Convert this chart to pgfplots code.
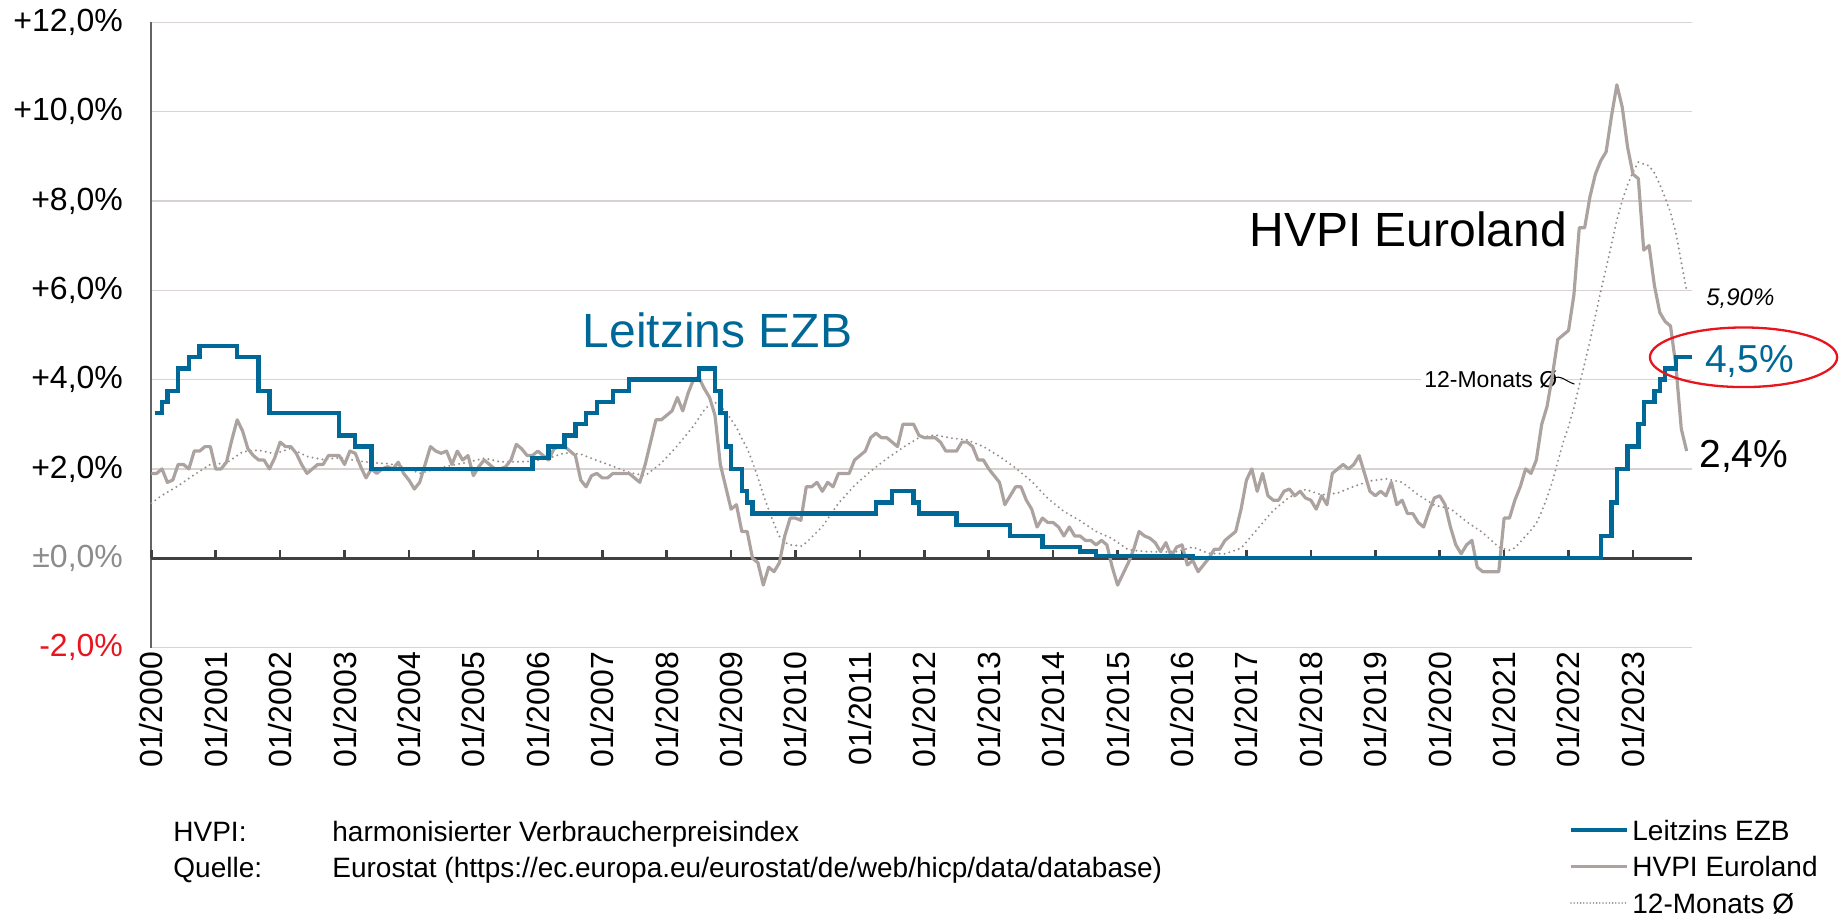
\documentclass[border=0pt]{standalone}
\usepackage{fontspec}
\setmainfont{Liberation Sans}
\usepackage{pgfplots}
\pgfplotsset{compat=1.18}
\definecolor{ezb}{RGB}{0,104,150}
\definecolor{hvpi}{RGB}{172,163,160}
\definecolor{avgc}{RGB}{150,140,137}
\definecolor{gridc}{RGB}{216,211,208}
\definecolor{zeroc}{RGB}{64,64,64}
\definecolor{axisc}{RGB}{100,100,100}
\definecolor{redc}{RGB}{232,20,30}
\definecolor{labgrey}{RGB}{140,140,140}
\begin{document}
\begin{tikzpicture}
\useasboundingbox (0,0) rectangle (919.5pt,460pt);
\begin{axis}[
  at={(75.65pt,136.2pt)}, anchor=south west,
  scale only axis, width=770.35pt, height=312.65pt,
  xmin=0, xmax=287, ymin=-2, ymax=12,
  axis x line*=bottom, axis y line*=left,
  x axis line style={draw=none},
  y axis line style={draw=axisc, line width=0.9pt},
  xtick={0,12,...,276},
  xticklabels={01/2000,01/2001,01/2002,01/2003,01/2004,01/2005,01/2006,01/2007,01/2008,01/2009,01/2010,01/2011,01/2012,01/2013,01/2014,01/2015,01/2016,01/2017,01/2018,01/2019,01/2020,01/2021,01/2022,01/2023},
  ytick={-2,0,2,4,6,8,10,12},
  yticklabels={{\textcolor{redc}{-2,0\%}},{\textcolor{labgrey}{±0,0\%}},{+2,0\%},{+4,0\%},{+6,0\%},{+8,0\%},{+10,0\%},{+12,0\%}},
  major tick length=0pt,
  tick style={draw=none},
  ymajorgrids, grid style={draw=gridc, line width=0.75pt},
  extra y ticks={0}, extra y tick labels={},
  extra y tick style={grid style={draw=zeroc, line width=1.4pt}},
  tick label style={font=\fontsize{16}{19}\selectfont},
  xticklabel style={rotate=90, anchor=east, inner sep=0pt},
  yticklabel style={anchor=east, inner sep=0pt},
  xticklabel shift=2pt, yticklabel shift=14pt,
  clip=false,
]
% year tick marks on the zero line
\pgfplotsinvokeforeach{0,12,24,36,48,60,72,84,96,108,120,132,144,156,168,180,192,204,216,228,240,252,264,276}{
  \draw[zeroc, line width=1.3pt] (axis cs:#1,0) -- ++(0pt,4.2pt);
}
% label 12-Monats with white box (drawn before the lines)
\node[anchor=base west, fill=white, inner sep=1.5pt, font=\fontsize{11.5}{13}\selectfont] at (axis cs:236.5,3.83) {12-Monats Ø};
\draw[black, line width=0.5pt] (axis cs:261.2,4.02) .. controls (axis cs:262.4,4.13) and (axis cs:263.6,3.95) .. (axis cs:265.1,3.9);

% 12-month average (dotted)
\addplot[avgc, line width=1.1pt, dash pattern=on 0pt off 2.5pt, line cap=round] coordinates {
(0,1.23) (2,1.41) (5,1.62) (8,1.87) (11,2.10) (14,2.13) (17,2.385) (20,2.42) (23,2.34)
(26,2.46) (29,2.28) (32,2.21) (35,2.25) (38,2.19) (41,2.14) (44,2.12) (47,2.05)
(50,1.90) (53,2.00) (56,2.08) (59,2.15) (62,2.24) (65,2.16) (68,2.16) (71,2.17)
(74,2.24) (77,2.36) (80,2.33) (83,2.19) (86,2.06) (89,1.92) (92,1.85) (95,2.13)
(98,2.52) (101,2.96) (102,3.14) (103,3.32) (104,3.44) (105,3.49) (106,3.41) (107,3.28)
(108,3.11) (109,2.93) (110,2.68) (111,2.46) (112,2.15) (113,1.81) (114,1.425) (115,1.09)
(116,0.77) (117,0.49) (118,0.36) (119,0.30) (120,0.29) (121,0.27) (122,0.35) (125,0.71)
(128,1.23) (131,1.63) (134,1.95) (137,2.23) (140,2.48) (143,2.70) (146,2.76) (149,2.69)
(152,2.65) (155,2.50) (158,2.28) (161,2.02) (164,1.72) (167,1.34) (170,1.05) (173,0.84)
(176,0.60) (179,0.44) (182,0.19) (185,0.15) (188,0.14) (191,0.15) (194,0.25) (197,0.11)
(200,0.10) (203,0.225) (206,0.65) (209,1.07) (212,1.37) (215,1.54) (218,1.42) (221,1.46)
(224,1.61) (227,1.73) (230,1.78) (233,1.70) (236,1.42) (239,1.19) (242,1.11) (245,0.82)
(248,0.575) (251,0.25) (252,0.21) (253,0.18) (254,0.23) (257,0.63) (258,0.78) (259,1.05)
(260,1.36) (261,1.725) (262,2.16) (263,2.60) (264,2.95) (265,3.37) (266,3.875) (267,4.36)
(268,4.87) (269,5.43) (270,5.98) (271,6.49) (272,7.03) (273,7.575) (274,8.01) (275,8.36)
(276,8.65) (277,8.87) (278,8.825) (279,8.79) (280,8.625) (281,8.37) (282,8.07) (283,7.74)
(284,7.28) (285,6.63) (286,5.99)
};

% HVPI Euroland
\addplot[hvpi, line width=1.6pt, line join=round] coordinates {
(0,1.9) (1,1.9) (2,2.0) (3,1.7) (4,1.75) (5,2.1) (6,2.1) (7,2.0) (8,2.4) (9,2.4) (10,2.5) (11,2.5)
(12,2.0) (13,2.0) (14,2.15) (15,2.65) (16,3.1) (17,2.85) (18,2.45) (19,2.3) (20,2.2) (21,2.2) (22,2.0) (23,2.25)
(24,2.6) (25,2.5) (26,2.5) (27,2.35) (28,2.1) (29,1.9) (30,2.0) (31,2.1) (32,2.1) (33,2.3) (34,2.3) (35,2.3)
(36,2.1) (37,2.4) (38,2.35) (39,2.05) (40,1.8) (41,2.0) (42,1.9) (43,2.0) (44,2.05) (45,2.0) (46,2.15) (47,1.9)
(48,1.75) (49,1.55) (50,1.7) (51,2.1) (52,2.5) (53,2.4) (54,2.35) (55,2.4) (56,2.1) (57,2.4) (58,2.2) (59,2.3)
(60,1.85) (61,2.05) (62,2.2) (63,2.1) (64,2.0) (65,2.0) (66,2.05) (67,2.2) (68,2.55) (69,2.45) (70,2.3) (71,2.3)
(72,2.4) (73,2.3) (74,2.2) (75,2.45) (76,2.5) (77,2.5) (78,2.4) (79,2.3) (80,1.75) (81,1.6) (82,1.85) (83,1.9)
(84,1.8) (85,1.8) (86,1.9) (87,1.9) (88,1.9) (89,1.9) (90,1.8) (91,1.7) (92,2.1) (93,2.6) (94,3.1) (95,3.1)
(96,3.2) (97,3.3) (98,3.6) (99,3.3) (100,3.7) (101,4.0) (102,4.05) (103,3.8) (104,3.6) (105,3.2) (106,2.1) (107,1.6)
(108,1.1) (109,1.2) (110,0.6) (111,0.6) (112,0.0) (113,-0.1) (114,-0.6) (115,-0.2) (116,-0.3) (117,-0.1) (118,0.5) (119,0.9)
(120,0.9) (121,0.85) (122,1.6) (123,1.6) (124,1.7) (125,1.5) (126,1.7) (127,1.6) (128,1.9) (129,1.9) (130,1.9) (131,2.2)
(132,2.3) (133,2.4) (134,2.7) (135,2.8) (136,2.7) (137,2.7) (138,2.6) (139,2.5) (140,3.0) (141,3.0) (142,3.0) (143,2.75)
(144,2.7) (145,2.7) (146,2.7) (147,2.6) (148,2.4) (149,2.4) (150,2.4) (151,2.6) (152,2.6) (153,2.5) (154,2.2) (155,2.2)
(156,2.0) (157,1.85) (158,1.7) (159,1.2) (160,1.4) (161,1.6) (162,1.6) (163,1.3) (164,1.1) (165,0.7) (166,0.9) (167,0.8)
(168,0.8) (169,0.7) (170,0.5) (171,0.7) (172,0.5) (173,0.5) (174,0.4) (175,0.4) (176,0.3) (177,0.4) (178,0.3) (179,-0.2)
(180,-0.6) (181,-0.35) (182,-0.1) (183,0.2) (184,0.6) (185,0.5) (186,0.45) (187,0.35) (188,0.15) (189,0.35) (190,0.05) (191,0.25)
(192,0.3) (193,-0.15) (194,-0.05) (195,-0.3) (196,-0.15) (197,0.0) (198,0.2) (199,0.2) (200,0.4) (201,0.5) (202,0.6) (203,1.1)
(204,1.75) (205,2.0) (206,1.5) (207,1.9) (208,1.4) (209,1.3) (210,1.3) (211,1.5) (212,1.55) (213,1.4) (214,1.5) (215,1.35)
(216,1.3) (217,1.1) (218,1.4) (219,1.2) (220,1.9) (221,2.0) (222,2.1) (223,2.0) (224,2.1) (225,2.3) (226,1.9) (227,1.5)
(228,1.4) (229,1.5) (230,1.4) (231,1.7) (232,1.2) (233,1.3) (234,1.0) (235,1.0) (236,0.8) (237,0.7) (238,1.05) (239,1.35)
(240,1.4) (241,1.2) (242,0.7) (243,0.3) (244,0.1) (245,0.3) (246,0.4) (247,-0.2) (248,-0.3) (249,-0.3) (250,-0.3) (251,-0.3)
(252,0.9) (253,0.9) (254,1.3) (255,1.6) (256,2.0) (257,1.9) (258,2.2) (259,3.0) (260,3.4) (261,4.1) (262,4.9) (263,5.0)
(264,5.1) (265,5.9) (266,7.4) (267,7.4) (268,8.1) (269,8.6) (270,8.9) (271,9.1) (272,9.9) (273,10.6) (274,10.1) (275,9.2)
(276,8.6) (277,8.5) (278,6.9) (279,7.0) (280,6.1) (281,5.5) (282,5.3) (283,5.2) (284,4.3) (285,2.9) (286,2.4)
};

% Leitzins EZB
\addplot[ezb, line width=2.2pt, const plot, line join=miter] coordinates {
(0.6,3.25) (2,3.5) (3,3.75) (5,4.25) (7,4.5) (9,4.75) (16,4.5) (20,3.75) (22,3.25) (35,2.75) (38,2.5) (41,2.0)
(71,2.25) (74,2.5) (77,2.75) (79,3.0) (81,3.25) (83,3.5) (86,3.75) (89,4.0) (102,4.25) (105,3.75) (106,3.25)
(107,2.5) (108,2.0) (110,1.5) (111,1.25) (112,1.0) (135,1.25) (138,1.5) (142,1.25) (143,1.0) (150,0.75)
(160,0.5) (166,0.25) (173,0.15) (176,0.05) (194,0.0) (270,0.5) (272,1.25) (273,2.0) (275,2.5) (277,3.0)
(278,3.5) (280,3.75) (281,4.0) (282,4.25) (284,4.5) (287,4.5)
};

% annotations
\node[anchor=base west, text=ezb, inner sep=0pt, font=\fontsize{24}{28}\selectfont] at (axis cs:80.3,4.73) {Leitzins EZB};
\node[anchor=base west, text=black, inner sep=0pt, font=\fontsize{24}{28}\selectfont] at (axis cs:204.5,6.99) {HVPI Euroland};
\node[anchor=base west, inner sep=0pt, font=\fontsize{12}{14}\selectfont\itshape] at (axis cs:289.6,5.65) {5,90\%};
\node[anchor=base west, text=ezb, inner sep=0pt, font=\fontsize{19.5}{23}\selectfont] at (axis cs:289.4,4.16) {4,5\%};
\node[anchor=base west, text=black, inner sep=0pt, font=\fontsize{19.5}{23}\selectfont] at (axis cs:288.3,2.04) {2,4\%};
\draw[redc, line width=1.15pt] (axis cs:296.6,4.50) ellipse [x radius=46.8pt, y radius=14.9pt];
\end{axis}

% notes
\node[anchor=base west, inner sep=0pt, font=\fontsize{14}{16}\selectfont] at (86.5pt,39.5pt) {HVPI:};
\node[anchor=base west, inner sep=0pt, font=\fontsize{14}{16}\selectfont] at (166pt,39.5pt) {harmonisierter Verbraucherpreisindex};
\node[anchor=base west, inner sep=0pt, font=\fontsize{14}{16}\selectfont] at (86.5pt,21.3pt) {Quelle:};
\node[anchor=base west, inner sep=0pt, font=\fontsize{14}{16}\selectfont] at (166pt,21.3pt) {Eurostat (https://ec.europa.eu/eurostat/de/web/hicp/data/database)};

% legend
\draw[ezb, line width=2.2pt] (785.5pt,45pt) -- (813.5pt,45pt);
\node[anchor=base west, inner sep=0pt, font=\fontsize{14}{16}\selectfont] at (816pt,40pt) {Leitzins EZB};
\draw[hvpi, line width=1.6pt] (785.5pt,26.7pt) -- (813.5pt,26.7pt);
\node[anchor=base west, inner sep=0pt, font=\fontsize{14}{16}\selectfont] at (816pt,21.7pt) {HVPI Euroland};
\draw[avgc, line width=0.9pt, dash pattern=on 0pt off 1.6pt, line cap=round] (785.5pt,8.5pt) -- (813.5pt,8.5pt);
\node[anchor=base west, inner sep=0pt, font=\fontsize{14}{16}\selectfont] at (816pt,3.5pt) {12-Monats Ø};
\end{tikzpicture}
\end{document}
